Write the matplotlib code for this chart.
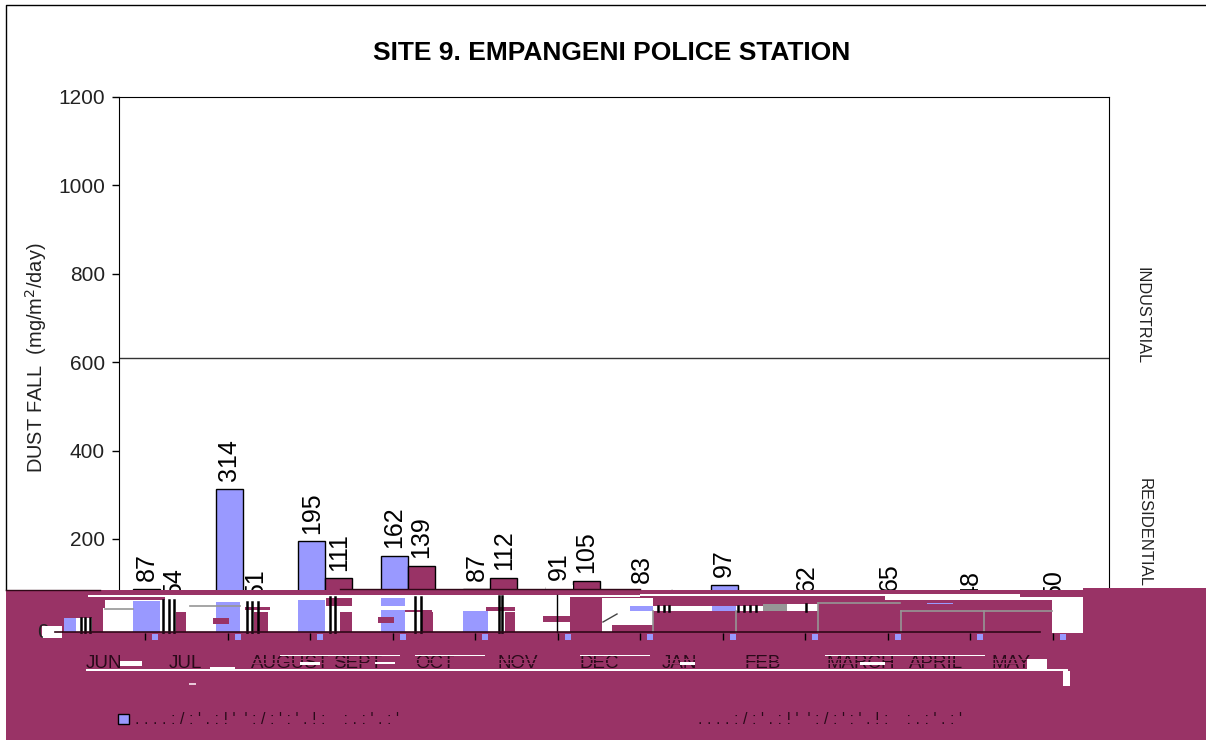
"""
SITE 9 dust fall chart, with the damaged lower part of the scan drawn on top.
"""

import numpy as np
import matplotlib
matplotlib.use("Agg")
import matplotlib.pyplot as plt
from matplotlib.patches import Rectangle

plt.rcParams["font.family"] = ["Liberation Sans", "DejaVu Sans"]

W, H = 1206, 740
MAROON = "#993366"
BLUE = "#9999FF"
GREY = "#969696"

months = ["JUN", "JUL", "AUGUST", "SEPT", "OCT", "NOV", "DEC", "JAN", "FEB", "MARCH", "APRIL", "MAY"]
first_series = [87, 314, 195, 162, 87, 91, 83, 97, 62, 65, 48, 50]
# Jan-May of this series sit under the damaged band and cannot be read
second_series = [54, 51, 111, 139, 112, 105, 14, np.nan, np.nan, np.nan, np.nan, np.nan]
y_ticks = [200, 400, 600, 800, 1000, 1200]
limit_line = 610
legend_fragments = ". . . . : / : ' . : ! '  ' : / : ' : ' . ! :    : . : ' . : '"

# Damage in the scan, in pixels: x0, y0, x1, y1, colour (painted in order)
damage = [
    (546, 585, 573, 590, "white"),
    (6, 590, 1206, 740, MAROON),
    (1083, 588, 1206, 592, MAROON),
    (88, 595, 640, 597, "white"),
    (640, 594, 900, 596, "white"),
    (900, 594, 1020, 597, "white"),
    (103, 608, 570, 632, "white"),
    (105, 600, 570, 608, "white"),
    (165, 597, 570, 600, "white"),
    (42, 626, 62, 638, "white"),
    (64, 618, 76, 632, BLUE),
    (76, 618, 92, 632, "white"),
    (133, 601, 160, 632, BLUE),
    (176, 612, 186, 632, MAROON),
    (216, 602, 240, 632, BLUE),
    (254, 612, 268, 632, MAROON),
    (245, 607, 270, 610, MAROON),
    (213, 618, 229, 624, MAROON),
    (298, 600, 325, 632, BLUE),
    (340, 612, 352, 632, MAROON),
    (326, 598, 352, 606, MAROON),
    (381, 598, 405, 606, BLUE),
    (381, 610, 405, 632, BLUE),
    (378, 617, 394, 623, MAROON),
    (422, 612, 433, 632, MAROON),
    (405, 610, 432, 612, MAROON),
    (463, 611, 488, 632, BLUE),
    (486, 607, 515, 611, MAROON),
    (505, 612, 515, 632, MAROON),
    (543, 616, 570, 622, MAROON),
    (570, 597, 602, 632, MAROON),
    (602, 598, 653, 625, "white"),
    (602, 625, 612, 632, "white"),
    (630, 606, 653, 611, BLUE),
    (653, 606, 712, 611, "white"),
    (712, 606, 736, 611, BLUE),
    (736, 606, 763, 611, "white"),
    (763, 604, 787, 611, GREY),
    (787, 604, 818, 611, "white"),
    (885, 595, 1020, 600, "white"),
    (927, 603, 953, 604, BLUE),
    (1052, 597, 1083, 633, "white"),
    (1010, 597, 1052, 600, "white"),
]
# drawn over the month names so they break up as in the scan
text_damage = [
    (86, 669, 1068, 671, "white"),
    (1063, 671, 1070, 686, "white"),
    (1027, 659, 1047, 670, "white"),
    (120, 661, 142, 666, "white"),
    (210, 667, 235, 669, "white"),
    (280, 655, 400, 656, "white"),
    (415, 655, 485, 656, "white"),
    (580, 655, 650, 656, "white"),
    (825, 655, 985, 656, "white"),
    (300, 662, 320, 665, "white"),
    (375, 662, 395, 664, "white"),
    (680, 662, 695, 665, "white"),
    (860, 662, 885, 665, "white"),
    (189, 683, 196, 685, "#E8C8D8"),
]
damage_stripes = [(163, 600, 632), (169, 600, 632), (174, 600, 632), (247, 602, 632), (252, 602, 632),
                  (258, 602, 632), (330, 597, 632), (335, 597, 632), (415, 597, 632), (421, 597, 632),
                  (499, 596, 632), (502, 596, 632), (81, 618, 632), (85, 618, 632), (90, 618, 632),
                  (658, 606, 611), (664, 606, 611), (669, 606, 611), (738, 606, 611), (744, 606, 611),
                  (750, 606, 611), (756, 606, 611), (806, 604, 611)]
damage_grey = [(653, 611, 653, 632), (736, 611, 736, 632), (818, 603, 818, 632), (901, 611, 901, 632),
               (984, 611, 984, 632), (818, 603, 900, 603), (901, 611, 1052, 611),
               (105, 609, 133, 609), (190, 606, 240, 606)]

fig = plt.figure(figsize=(W / 100, H / 100), dpi=100)
ax = fig.add_axes([119 / W, 1 - 627.4 / H, 990 / W, 530.4 / H])

x = np.arange(len(months))
bar_w = 27 / 82.5
ax.bar(x - bar_w / 2, first_series, bar_w, color=BLUE, edgecolor="black", linewidth=1)
ax.bar(x + bar_w / 2, second_series, bar_w, color=MAROON, edgecolor="black", linewidth=1)
for offset, series in [(-bar_w / 2, first_series), (bar_w / 2, second_series)]:
    for xi, v in zip(x, series):
        if np.isnan(v):
            continue
        ax.annotate(str(v), (xi + offset, v), xytext=(0, 5.5), textcoords="offset points",
                    rotation=90, ha="center", va="bottom", fontsize=18)

ax.axhline(limit_line, color="#333333", linewidth=1)
ax.set_xlim(-0.5, 11.5)
ax.set_ylim(0, 1200)
ax.set_xticks([])
ax.set_yticks(y_ticks)
ax.tick_params(axis="y", labelsize=15, length=5, width=1, pad=5)
for label in ax.get_yticklabels():
    label.set_color("#222222")

fig.text(36 / W, 1 - 358 / H, "DUST FALL  (mg/m$^2$/day)", rotation=90, fontsize=14.4, color="#222222",
         ha="center", va="center")
fig.text(612 / W, 1 - 53 / H, "SITE 9. EMPANGENI POLICE STATION", fontsize=19, fontweight="bold",
         ha="center", va="center")
fig.text(1142 / W, 1 - 316 / H, "INDUSTRIAL", rotation=270, fontsize=11.7, ha="center", va="center", color="#222222")
fig.text(1144 / W, 1 - 533 / H, "RESIDENTIAL", rotation=270, fontsize=12, ha="center", va="center", color="#222222")

# Pixel-coordinate layer on top of everything for the damaged part
over = fig.add_axes([0, 0, 1, 1], facecolor="none")
over.set_xlim(0, W)
over.set_ylim(H, 0)
over.axis("off")


def paint(rects):
    for x0, y0, x1, y1, colour in rects:
        over.add_patch(Rectangle((x0, y0), x1 - x0, y1 - y0, facecolor=colour, edgecolor="none", zorder=4))


over.plot([6, 6, W], [590, 5, 5], color="black", linewidth=1)
paint(damage)
for xs, y0, y1 in damage_stripes:
    over.plot([xs, xs], [y0, y1], color="black", linewidth=1.8, zorder=5)
for x0, y0, x1, y1 in damage_grey:
    over.plot([x0, x1], [y0, y1], color=GREY, linewidth=1.2, zorder=5)
over.plot([557, 557], [595, 632], color="black", linewidth=1, zorder=5)
over.plot([603, 617], [622, 614], color="#444444", linewidth=1, zorder=5)
over.plot([55, 1040], [632, 632], color="#300818", linewidth=1.2, zorder=5)
over.plot([6, 100], [590, 590], color="#300818", linewidth=1, zorder=5)
over.plot([340, 640], [589, 589], color="#300818", linewidth=1, zorder=5)

over.text(43, 632, "0", fontsize=15, ha="center", va="center", color="#222222", zorder=6)
over.add_patch(Rectangle((43, 626), 19, 12, facecolor="white", edgecolor="none", zorder=7))
over.plot([55, 62], [632, 632], color="#300818", linewidth=1.2, zorder=8)

tick_x = 145 + 82.5 * x
over.vlines(tick_x, 633, 640, color="black", linewidth=1, zorder=5)
for tx in tick_x:
    over.add_patch(Rectangle((tx + 7, 634), 6, 6, facecolor=BLUE, edgecolor="none", zorder=5))
for i, month in enumerate(months):
    over.text(86 + 82.3 * i, 668, month, fontsize=13.5, ha="left", va="baseline", color="#2A0A1A", zorder=5)
for y_cut in [658.5, 662.5]:
    over.plot([240, 1030], [y_cut, y_cut], color=MAROON, linewidth=0.8, zorder=6)
for x0, y0, x1, y1, colour in text_damage:
    over.add_patch(Rectangle((x0, y0), x1 - x0, y1 - y0, facecolor=colour, edgecolor="none", zorder=7))

over.add_patch(Rectangle((118, 714), 11, 10, facecolor=BLUE, edgecolor="black", linewidth=1, zorder=5))
for x_text in [135, 698]:
    over.text(x_text, 719, legend_fragments, fontsize=11.5, ha="left", va="center", color="#2A0A1A", zorder=5)

fig.savefig("out.png", dpi=100)
plt.close(fig)
